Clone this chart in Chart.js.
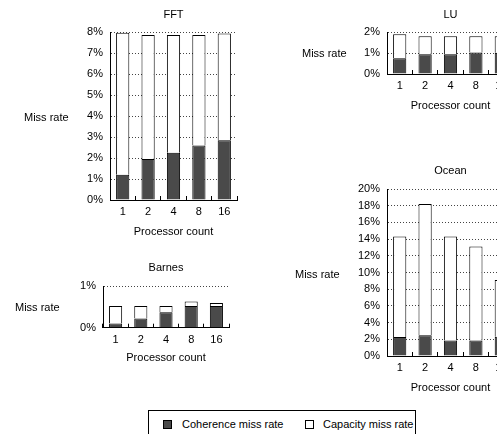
<!DOCTYPE html>
<html>
<head>
<meta charset="utf-8">
<script src="https://cdn.jsdelivr.net/npm/chart.js@4"></script>
<style>
  html, body { margin: 0; padding: 0; background: #fff; overflow: hidden; }
  #page { position: relative; width: 497px; height: 434px; overflow: hidden; font-family: "Liberation Sans", Arial, sans-serif; font-size: 11px; color: #000; }
  canvas { position: absolute; }
  .ylab { position: absolute; line-height: 13px; white-space: nowrap; }
  #legend { position: absolute; left: 148px; top: 410px; width: 268px; height: 40px; border: 1px solid #000; box-sizing: border-box; }
  .sw { position: absolute; top: 9px; width: 9px; height: 9px; border: 1px solid #000; box-sizing: border-box; }
  .lt { position: absolute; top: 7px; line-height: 13px; white-space: nowrap; }
</style>
</head>
<body>
<div id="page">
  <canvas id="fftChart" width="250" height="250" style="left:0;top:0"></canvas>
  <canvas id="luChart" width="280" height="120" style="left:250px;top:0"></canvas>
  <canvas id="barnesChart" width="250" height="115" style="left:0;top:255px"></canvas>
  <canvas id="oceanChart" width="280" height="250" style="left:250px;top:150px"></canvas>

  <div class="ylab" style="left:24px;top:111px">Miss rate</div>
  <div class="ylab" style="left:302px;top:47px">Miss rate</div>
  <div class="ylab" style="left:15px;top:301px">Miss rate</div>
  <div class="ylab" style="left:295px;top:268px">Miss rate</div>

  <div id="legend">
    <div class="sw" style="left:14px;background:#4a4a4a"></div>
    <div class="lt" style="left:33px">Coherence miss rate</div>
    <div class="sw" style="left:156px;background:#fff"></div>
    <div class="lt" style="left:174px">Capacity miss rate</div>
  </div>
</div>

<script>
// ==========================================
// DATA (miss rate, %)
// ==========================================

const processors = ["1", "2", "4", "8", "16"];

const fftCoherence = [1.2, 1.95, 2.25, 2.6, 2.85];
const fftCapacity = [6.77, 5.92, 5.62, 5.27, 5.09];

const luCoherence = [0.75, 0.94, 0.94, 1.03, 1.02];
const luCapacity = [1.15, 0.87, 0.87, 0.78, 0.79];

const barnesCoherence = [0.10, 0.22, 0.37, 0.52, 0.52];
const barnesCapacity = [0.42, 0.30, 0.15, 0.11, 0.07];

const oceanCoherence = [2.27, 2.5, 1.87, 1.87, 2.3];
const oceanCapacity = [12.03, 15.7, 12.43, 11.23, 6.8];


// ==========================================
// DEFAULTS
// ==========================================

Chart.defaults.font.family = "'Liberation Sans', Arial, sans-serif";
Chart.defaults.font.size = 11;
Chart.defaults.color = "#000";


// ==========================================
// CHART BUILDER
// ==========================================

function makeChart(id, title, coherence, capacity, yMax, yStep, box){

    return new Chart(document.getElementById(id), {

        type: "bar",

        data: {
            labels: processors,
            datasets: [
                {
                    label: "Coherence miss rate",
                    data: coherence,
                    xAxisID: "x",
                    yAxisID: "y",
                    backgroundColor: "#4a4a4a",
                    borderColor: "#000",
                    borderWidth: 1
                },
                {
                    label: "Capacity miss rate",
                    data: capacity,
                    xAxisID: "x",
                    yAxisID: "y",
                    backgroundColor: "#fff",
                    borderColor: "#000",
                    borderWidth: 1
                }
            ]
        },

        options: {
            responsive: false,
            animation: false,
            categoryPercentage: 1,
            barPercentage: 0.52,
            layout: { padding: { left: 0, top: 0, bottom: 0, right: box.right } },
            plugins: {
                legend: { display: false },
                tooltip: { enabled: false }
            },
            scales: {
                x: {
                    stacked: true,
                    afterFit: function(scale){ scale.height = box.xHeight; },
                    grid: {
                        display: true,
                        drawOnChartArea: false,
                        drawTicks: true,
                        tickLength: -4,
                        color: "#000"
                    },
                    border: { display: true, color: "#000", width: 1 },
                    ticks: { padding: 9.4, color: "#000" },
                    title: {
                        display: true,
                        text: "Processor count",
                        color: "#000",
                        font: { size: 11 },
                        padding: { top: 0, bottom: box.xTitleBottom }
                    }
                },
                // top axis only carries the panel title, centred over the plot
                top: {
                    type: "category",
                    position: "top",
                    stacked: true,
                    afterFit: function(scale){ scale.height = box.top; },
                    grid: { display: false },
                    border: { display: false },
                    ticks: { display: false },
                    title: {
                        display: true,
                        text: title,
                        color: "#000",
                        font: { size: 11 },
                        padding: { top: box.titleTop, bottom: 0 }
                    }
                },
                y: {
                    stacked: true,
                    min: 0,
                    max: yMax,
                    afterFit: function(scale){ scale.width = box.yWidth; },
                    grid: {
                        color: "#444",
                        lineWidth: 1,
                        drawTicks: false
                    },
                    border: { display: true, color: "#000", width: 1, dash: [1, 2] },
                    ticks: {
                        stepSize: yStep,
                        padding: 7,
                        color: "#000",
                        callback: function(v){ return v + "%"; }
                    }
                }
            }
        }
    });
}


// ==========================================
// FOUR PANELS
// ==========================================

makeChart("fftChart", "FFT", fftCoherence, fftCapacity, 8, 1,
    { right: 13, yWidth: 110, top: 32.2, titleTop: 8.4, xHeight: 50, xTitleBottom: 11.4 });

makeChart("luChart", "LU", luCoherence, luCapacity, 2, 1,
    { right: 16, yWidth: 137, top: 32.2, titleTop: 8.4, xHeight: 46, xTitleBottom: 7.4 });

makeChart("barnesChart", "Barnes", barnesCoherence, barnesCapacity, 1, 1,
    { right: 21, yWidth: 103, top: 31, titleTop: 6.4, xHeight: 42.3, xTitleBottom: 5.9 });

makeChart("oceanChart", "Ocean", oceanCoherence, oceanCapacity, 20, 2,
    { right: 16, yWidth: 137, top: 39, titleTop: 14.1, xHeight: 44, xTitleBottom: 5.4 });
</script>
</body>
</html>
